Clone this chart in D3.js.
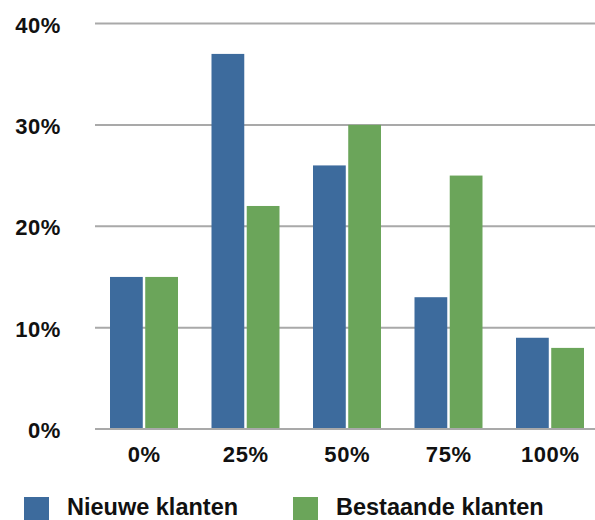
<!DOCTYPE html>
<html>
<head>
<meta charset="utf-8">
<script src="https://cdn.jsdelivr.net/npm/d3@7"></script>
<style>
  body { margin: 0; background: #fff; }
  text { font-family: "Liberation Sans", Arial, sans-serif; font-weight: bold; fill: #111; }
</style>
</head>
<body>
<svg id="chart" width="595" height="520"></svg>
<script>
const categories = ["0%", "25%", "50%", "75%", "100%"]
const seriesNames = ["Nieuwe klanten", "Bestaande klanten"]
const nieuweKlanten = [15, 37, 26, 13, 9]
const bestaandeKlanten = [15, 22, 30, 25, 8]
const yTicks = [0, 10, 20, 30, 40]

const colors = ["#3d6b9d", "#6ba55a"]
const values = [nieuweKlanten, bestaandeKlanten]

const svg = d3.select("#chart")

const x = d3.scaleBand().domain(categories).range([93, 600.5])
const xs = d3.scaleBand().domain(seriesNames).range([17, 85]).paddingInner(0.07)
const y = d3.scaleLinear().domain([0, 40]).range([429, 23.5])

// gridlines
svg.append("g").selectAll("line")
  .data(yTicks)
  .join("line")
  .attr("x1", 95)
  .attr("x2", 595)
  .attr("y1", d => y(d))
  .attr("y2", d => y(d))
  .attr("stroke", "#a9a9a9")
  .attr("stroke-width", 2)

// y tick labels
svg.append("g").selectAll("text")
  .data(yTicks)
  .join("text")
  .attr("x", 61)
  .attr("y", d => y(d) + 9)
  .attr("text-anchor", "end")
  .style("font-size", "22px")
  .style("letter-spacing", "0.6px")
  .text(d => d + "%")

// bars
const groups = svg.append("g").selectAll("g")
  .data(categories)
  .join("g")
  .attr("transform", d => `translate(${x(d)},0)`)

groups.selectAll("rect")
  .data((d, i) => seriesNames.map((s, j) => ({ s, j, v: values[j][i] })))
  .join("rect")
  .attr("x", d => xs(d.s))
  .attr("width", xs.bandwidth())
  .attr("y", d => y(d.v))
  .attr("height", d => y(0) - 1 - y(d.v))
  .attr("fill", d => colors[d.j])

// x labels
svg.append("g").selectAll("text")
  .data(categories)
  .join("text")
  .attr("x", d => x(d) + x.bandwidth() / 2 + 0.5)
  .attr("y", 462)
  .attr("text-anchor", "middle")
  .style("font-size", "22px")
  .style("letter-spacing", "0.6px")
  .text(d => d)

// legend
const legendX = [24, 293]
const legend = svg.append("g").selectAll("g")
  .data(seriesNames)
  .join("g")
  .attr("transform", (d, i) => `translate(${legendX[i]},0)`)

legend.append("rect")
  .attr("x", 0)
  .attr("y", 497)
  .attr("width", 25)
  .attr("height", 25)
  .attr("fill", (d, i) => colors[i])

legend.append("text")
  .attr("x", 43)
  .attr("y", 515)
  .style("font-size", "23.5px")
  .text(d => d)
</script>
</body>
</html>
